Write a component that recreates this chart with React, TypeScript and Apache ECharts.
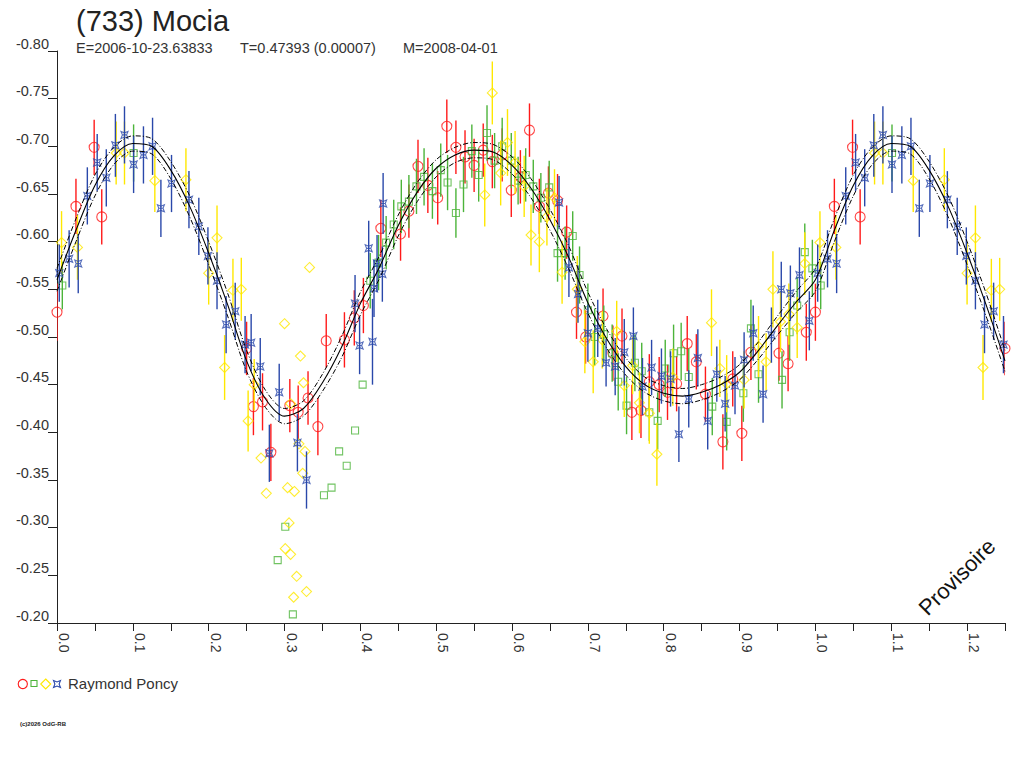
import React, { useEffect, useRef } from "react";
import * as echarts from "echarts";

const FONT = '"Liberation Sans", Arial, Helvetica, sans-serif';

// Title texts
const TITLE = "(733) Mocia";
const SUB_E = "E=2006-10-23.63833";
const SUB_T = "T=0.47393 (0.00007)";
const SUB_M = "M=2008-04-01";
const OBSERVER = "Raymond Poncy";
const STAMP = "Provisoire";
const COPY = "(c)2026 OdG-RB";

// Axis ranges / ticks
const X_MIN = 0;
const X_MAX = 1.25;
const X_STEP = 0.05;
const Y_MIN = -0.8;
const Y_MAX = -0.2;
const Y_STEP = 0.05;

// Fitted curve: magnitude every 0.025 in phase from 0 to 1
const FIT_STEP = 0.025;
const fitMag = [
  -0.56, -0.612, -0.659, -0.69, -0.703, -0.7, -0.675, -0.637, -0.588, -0.534,
  -0.475, -0.435, -0.417, -0.425, -0.452, -0.489, -0.535, -0.573, -0.617, -0.652,
  -0.677, -0.691, -0.696, -0.694, -0.68, -0.656, -0.623, -0.583, -0.536, -0.498,
  -0.469, -0.45, -0.441, -0.438, -0.442, -0.45, -0.463, -0.486, -0.512, -0.537,
  -0.56,
];
// half width of the dashed envelope around the fit
const fitErr = [
  0.012, 0.012, 0.011, 0.009, 0.008, 0.008, 0.009, 0.011, 0.012, 0.012,
  0.011, 0.009, 0.008, 0.008, 0.009, 0.011, 0.012, 0.012, 0.011, 0.01,
  0.009, 0.008, 0.008, 0.008, 0.009, 0.01, 0.011, 0.012, 0.011, 0.01,
  0.009, 0.008, 0.008, 0.008, 0.008, 0.008, 0.008, 0.009, 0.01, 0.011,
  0.012,
];

// Observations: [phase, magnitude, error]
const redPts = [
  [0.049, -0.699, 0.029], [0.025, -0.637, 0.029], [0.059, -0.626, 0.029], [0.0, -0.526, 0.03],
  [0.988, -0.505, 0.03], [0.25, -0.488, 0.028], [0.259, -0.427, 0.03], [0.271, -0.432, 0.03],
  [0.282, -0.379, 0.03], [0.307, -0.428, 0.028], [0.318, -0.421, 0.028], [0.331, -0.436, 0.028],
  [0.344, -0.406, 0.03], [0.355, -0.496, 0.028], [0.379, -0.497, 0.029], [0.392, -0.52, 0.029],
  [0.404, -0.533, 0.029], [0.427, -0.614, 0.03], [0.453, -0.608, 0.028], [0.464, -0.632, 0.028],
  [0.476, -0.679, 0.028], [0.489, -0.659, 0.029], [0.502, -0.646, 0.028], [0.514, -0.721, 0.028],
  [0.526, -0.699, 0.028], [0.538, -0.689, 0.028], [0.55, -0.68, 0.028], [0.562, -0.696, 0.028],
  [0.574, -0.684, 0.028], [0.587, -0.691, 0.028], [0.599, -0.654, 0.028], [0.611, -0.668, 0.028],
  [0.623, -0.717, 0.028], [0.636, -0.637, 0.029], [0.648, -0.651, 0.028], [0.66, -0.643, 0.028],
  [0.672, -0.61, 0.028], [0.685, -0.526, 0.028], [0.697, -0.5, 0.028], [0.72, -0.522, 0.029],
  [0.733, -0.483, 0.029], [0.745, -0.501, 0.029], [0.758, -0.421, 0.029], [0.77, -0.423, 0.029],
  [0.781, -0.453, 0.029], [0.794, -0.45, 0.029], [0.805, -0.442, 0.029], [0.817, -0.451, 0.029],
  [0.831, -0.493, 0.029], [0.843, -0.474, 0.029], [0.855, -0.44, 0.029], [0.878, -0.39, 0.029],
  [0.891, -0.456, 0.029], [0.903, -0.399, 0.029], [0.915, -0.484, 0.029], [0.952, -0.483, 0.029],
  [0.964, -0.472, 0.029],
];

const greenPts = [
  [0.986, -0.589, 0.03], [0.996, -0.572, 0.03], [0.007, -0.554, 0.025], [0.101, -0.693, 0.03],
  [0.403, -0.45, 0], [0.393, -0.402, 0], [0.372, -0.38, 0], [0.382, -0.365, 0],
  [0.362, -0.342, 0], [0.352, -0.334, 0], [0.301, -0.301, 0], [0.291, -0.266, 0],
  [0.311, -0.209, 0], [0.413, -0.559, 0.029], [0.424, -0.578, 0.029], [0.434, -0.599, 0.028],
  [0.444, -0.618, 0.026], [0.454, -0.637, 0.028], [0.464, -0.642, 0.028], [0.474, -0.658, 0.029],
  [0.484, -0.668, 0.03], [0.495, -0.653, 0.029], [0.506, -0.675, 0.028], [0.515, -0.662, 0.029],
  [0.526, -0.63, 0.026], [0.536, -0.66, 0.029], [0.547, -0.695, 0.028], [0.556, -0.67, 0.028],
  [0.567, -0.714, 0.029], [0.577, -0.685, 0.029], [0.587, -0.7, 0.03], [0.599, -0.685, 0.029],
  [0.608, -0.664, 0.025], [0.618, -0.67, 0.028], [0.628, -0.658, 0.028], [0.638, -0.646, 0.026],
  [0.649, -0.657, 0.028], [0.66, -0.588, 0.03], [0.67, -0.588, 0.028], [0.68, -0.606, 0.026],
  [0.689, -0.565, 0.03], [0.7, -0.528, 0.028], [0.709, -0.5, 0.03], [0.721, -0.503, 0.03],
  [0.732, -0.483, 0.03], [0.74, -0.453, 0.03], [0.751, -0.428, 0.03], [0.762, -0.473, 0.03],
  [0.771, -0.464, 0.03], [0.781, -0.421, 0.03], [0.792, -0.412, 0.03], [0.802, -0.467, 0.03],
  [0.813, -0.483, 0.03], [0.823, -0.485, 0.03], [0.833, -0.458, 0.03], [0.864, -0.427, 0.03],
  [0.883, -0.411, 0.03], [0.905, -0.441, 0.03], [0.915, -0.509, 0.03], [0.925, -0.461, 0.03],
  [0.956, -0.455, 0.03], [0.966, -0.505, 0.03], [0.976, -0.533, 0.03],
];

const yellowPts = [
  [0.986, -0.577, 0.033], [0.006, -0.599, 0.033], [0.027, -0.594, 0.034], [0.078, -0.693, 0.033],
  [0.089, -0.693, 0.033], [0.129, -0.664, 0.033], [0.17, -0.665, 0.033], [0.211, -0.604, 0.034],
  [0.2, -0.567, 0.033], [0.232, -0.549, 0.033], [0.243, -0.55, 0.033], [0.221, -0.468, 0.034],
  [0.252, -0.412, 0.032], [0.26, -0.45, 0.027], [0.3, -0.514, 0], [0.333, -0.573, 0],
  [0.321, -0.48, 0], [0.325, -0.452, 0], [0.308, -0.43, 0], [0.269, -0.373, 0],
  [0.276, -0.336, 0], [0.304, -0.342, 0], [0.313, -0.338, 0], [0.319, -0.388, 0],
  [0.327, -0.38, 0], [0.324, -0.357, 0], [0.306, -0.305, 0], [0.301, -0.278, 0],
  [0.308, -0.272, 0], [0.316, -0.249, 0], [0.312, -0.227, 0], [0.329, -0.233, 0],
  [0.574, -0.756, 0.033], [0.594, -0.704, 0.035], [0.564, -0.649, 0.033], [0.585, -0.672, 0.034],
  [0.604, -0.683, 0.033], [0.616, -0.658, 0.032], [0.625, -0.607, 0.032], [0.636, -0.6, 0.032],
  [0.646, -0.626, 0.03], [0.656, -0.646, 0.03], [0.666, -0.568, 0.033], [0.686, -0.55, 0.035],
  [0.696, -0.495, 0.033], [0.707, -0.474, 0.033], [0.719, -0.497, 0.03], [0.738, -0.506, 0.032],
  [0.748, -0.449, 0.033], [0.759, -0.47, 0.03], [0.768, -0.431, 0.032], [0.781, -0.42, 0.032],
  [0.791, -0.377, 0.033], [0.812, -0.458, 0.03], [0.863, -0.515, 0.035], [0.874, -0.467, 0.03],
  [0.883, -0.451, 0.03], [0.906, -0.455, 0.03], [0.925, -0.49, 0.032], [0.935, -0.474, 0.03],
  [0.944, -0.55, 0.04], [0.954, -0.516, 0.032], [0.965, -0.524, 0.032], [0.976, -0.51, 0.032],
];

const bluePts = [
  [0.992, -0.517, 0.031], [0.003, -0.567, 0.03], [0.016, -0.582, 0.03], [0.028, -0.577, 0.031],
  [0.04, -0.648, 0.03], [0.053, -0.683, 0.03], [0.065, -0.667, 0.03], [0.077, -0.701, 0.033],
  [0.089, -0.712, 0.03], [0.101, -0.681, 0.03], [0.114, -0.691, 0.03], [0.126, -0.7, 0.03],
  [0.137, -0.635, 0.03], [0.151, -0.661, 0.03], [0.174, -0.644, 0.03], [0.187, -0.616, 0.03],
  [0.199, -0.585, 0.03], [0.211, -0.559, 0.03], [0.223, -0.513, 0.03], [0.235, -0.527, 0.03],
  [0.248, -0.492, 0.03], [0.256, -0.494, 0.03], [0.268, -0.469, 0.03], [0.28, -0.378, 0.03],
  [0.293, -0.442, 0.03], [0.317, -0.389, 0.03], [0.329, -0.35, 0.03], [0.393, -0.535, 0.03],
  [0.399, -0.491, 0.03], [0.411, -0.593, 0.029], [0.416, -0.495, 0.045], [0.418, -0.551, 0.03],
  [0.422, -0.577, 0.03], [0.429, -0.566, 0.029], [0.43, -0.64, 0.032], [0.662, -0.641, 0.028],
  [0.675, -0.573, 0.031], [0.687, -0.545, 0.03], [0.7, -0.504, 0.03], [0.713, -0.509, 0.03],
  [0.724, -0.473, 0.025], [0.736, -0.469, 0.03], [0.748, -0.484, 0.035], [0.76, -0.501, 0.03],
  [0.772, -0.448, 0.03], [0.784, -0.468, 0.029], [0.797, -0.459, 0.029], [0.809, -0.456, 0.029],
  [0.82, -0.398, 0.029], [0.833, -0.435, 0.03], [0.845, -0.478, 0.03], [0.858, -0.412, 0.03],
  [0.87, -0.461, 0.029], [0.881, -0.43, 0.029], [0.894, -0.449, 0.03], [0.906, -0.476, 0.029],
  [0.918, -0.504, 0.029], [0.931, -0.44, 0.03], [0.942, -0.502, 0.029], [0.955, -0.55, 0.029],
  [0.967, -0.546, 0.029], [0.979, -0.565, 0.029],
];

const RED = "#ff1a1a";
const GREEN = "#4cb43a";
const YELLOW = "#ffe800";
const BLUE = "#2a48aa";
const BLUE_SYMBOL = "path://M0,0 L5,2 L10,0 L8,5 L10,10 L5,8 L0,10 L2,5 Z M2,5 L8,5";

// repeat phases 0..0.25 after phase 1 (as the original plot does)
function withRepeat(pts: number[][]): number[][] {
  const out = pts.slice();
  pts.forEach((p) => {
    if (p[0] <= X_MAX - 1) out.push([p[0] + 1, p[1], p[2]]);
  });
  return out;
}

function fitLine(sign: number): number[][] {
  const base: number[][] = fitMag.map((m, i) => [i * FIT_STEP, m + sign * fitErr[i]]);
  const extra: number[][] = [];
  for (let i = 1; i < fitMag.length; i++) {
    const ph = i * FIT_STEP;
    if (ph <= X_MAX - 1 + 1e-9) extra.push([ph + 1, fitMag[i] + sign * fitErr[i]]);
  }
  return base.concat(extra);
}

function obsSeries(pts: number[][], color: string, symbol: string, size: any, z: number) {
  const data = withRepeat(pts);
  return [
    {
      type: "custom",
      data,
      clip: true,
      silent: true,
      z,
      encode: { x: 0, y: 1 },
      renderItem: (params: any, api: any) => {
        const x = api.value(0);
        const y = api.value(1);
        const e = api.value(2);
        if (!e) return { type: "group", children: [] };
        const a = api.coord([x, y - e]);
        const b = api.coord([x, y + e]);
        return {
          type: "line",
          shape: { x1: a[0], y1: a[1], x2: b[0], y2: b[1] },
          style: { stroke: color, lineWidth: 1.4 },
        };
      },
    },
    {
      type: "scatter",
      data: data.map((p) => [p[0], p[1]]),
      symbol,
      symbolSize: size,
      silent: true,
      z: z + 1,
      itemStyle: { color: "rgba(0,0,0,0)", borderColor: color, borderWidth: 1.1 },
    },
  ];
}

export default function App() {
  const ref = useRef<HTMLDivElement>(null);
  useEffect(() => {
    if (!ref.current) return;
    const chart = echarts.init(ref.current, null, { renderer: "svg" });
    const option: any = {
      animation: false,
      backgroundColor: "#ffffff",
      grid: { left: 57, top: 51, width: 948, height: 572, containLabel: false },
      xAxis: {
        type: "value",
        min: X_MIN,
        max: X_MAX,
        interval: X_STEP,
        axisLine: { show: true, lineStyle: { color: "#222", width: 1 } },
        axisTick: { show: true, length: 8, lineStyle: { color: "#222" } },
        splitLine: { show: false },
        axisLabel: {
          rotate: -90,
          margin: 10,
          verticalAlign: "bottom",
          color: "#333",
          fontFamily: FONT,
          fontSize: 14,
          showMinLabel: true,
          showMaxLabel: true,
          formatter: (v: number) => {
            const k = Math.round(v * 100);
            return k % 10 === 0 ? (k / 100).toFixed(1) : "";
          },
        },
      },
      yAxis: {
        type: "value",
        inverse: true,
        min: Y_MIN,
        max: Y_MAX,
        interval: Y_STEP,
        axisLine: { show: true, lineStyle: { color: "#222", width: 1 } },
        axisTick: { show: true, length: 9, lineStyle: { color: "#222" } },
        splitLine: { show: false },
        axisLabel: {
          margin: 8,
          verticalAlign: "bottom",
          color: "#333",
          fontFamily: FONT,
          fontSize: 14.5,
          showMinLabel: true,
          showMaxLabel: true,
          formatter: (v: number) => v.toFixed(2),
        },
      },
      series: [
        ...obsSeries(redPts, RED, "circle", 10, 2),
        ...obsSeries(greenPts, GREEN, "rect", 7, 4),
        ...obsSeries(yellowPts, YELLOW, "diamond", 10, 6),
        ...obsSeries(bluePts, BLUE, BLUE_SYMBOL, 7, 8),
        {
          type: "line",
          data: fitLine(0),
          showSymbol: false,
          symbol: "none",
          smooth: 0.3,
          silent: true,
          z: 20,
          lineStyle: { color: "#000", width: 1.1 },
        },
        {
          type: "line",
          data: fitLine(-1),
          showSymbol: false,
          symbol: "none",
          smooth: 0.3,
          silent: true,
          z: 20,
          lineStyle: { color: "#000", width: 1, type: [5, 2, 1, 2] },
        },
        {
          type: "line",
          data: fitLine(1),
          showSymbol: false,
          symbol: "none",
          smooth: 0.3,
          silent: true,
          z: 20,
          lineStyle: { color: "#000", width: 1, type: [5, 2, 1, 2] },
        },
      ],
      graphic: [
        {
          type: "text",
          x: 76,
          y: 21,
          style: { text: TITLE, fill: "#222", font: `29px ${FONT}`, verticalAlign: "middle", align: "left" },
        },
        {
          type: "text",
          x: 76,
          y: 48,
          style: { text: SUB_E, fill: "#333", font: `14.5px ${FONT}`, verticalAlign: "middle", align: "left" },
        },
        {
          type: "text",
          x: 240,
          y: 48,
          style: { text: SUB_T, fill: "#333", font: `14.5px ${FONT}`, verticalAlign: "middle", align: "left" },
        },
        {
          type: "text",
          x: 403,
          y: 48,
          style: { text: SUB_M, fill: "#333", font: `14.5px ${FONT}`, verticalAlign: "middle", align: "left" },
        },
        {
          type: "text",
          x: 957,
          y: 577,
          rotation: Math.PI / 4,
          style: { text: STAMP, fill: "#111", font: `22px ${FONT}`, verticalAlign: "middle", align: "center" },
        },
        {
          type: "circle",
          shape: { cx: 22.8, cy: 684, r: 4.6 },
          style: { fill: "none", stroke: RED, lineWidth: 1.1 },
        },
        {
          type: "rect",
          shape: { x: 31, y: 680.5, width: 6, height: 6 },
          style: { fill: "none", stroke: GREEN, lineWidth: 1.1 },
        },
        {
          type: "polygon",
          shape: { points: [[45.7, 679], [50.7, 684], [45.7, 689], [40.7, 684]] },
          style: { fill: "none", stroke: YELLOW, lineWidth: 1.1 },
        },
        {
          type: "polygon",
          shape: {
            points: [[53.5, 680.5], [57, 681.9], [60.5, 680.5], [59.1, 684], [60.5, 687.5], [57, 686.1], [53.5, 687.5], [54.9, 684]],
          },
          style: { fill: "none", stroke: BLUE, lineWidth: 1.1 },
        },
        {
          type: "text",
          x: 68,
          y: 683.5,
          style: { text: OBSERVER, fill: "#333", font: `15px ${FONT}`, verticalAlign: "middle", align: "left" },
        },
        {
          type: "text",
          x: 20,
          y: 724,
          style: { text: COPY, fill: "#222", font: `bold 6px ${FONT}`, verticalAlign: "middle", align: "left" },
        },
      ],
    };
    chart.setOption(option);
    return () => chart.dispose();
  }, []);
  return (
    <div
      ref={ref}
      style={{ position: "absolute", left: 0, top: 0, width: 1024, height: 768, background: "#fff" }}
    />
  );
}
